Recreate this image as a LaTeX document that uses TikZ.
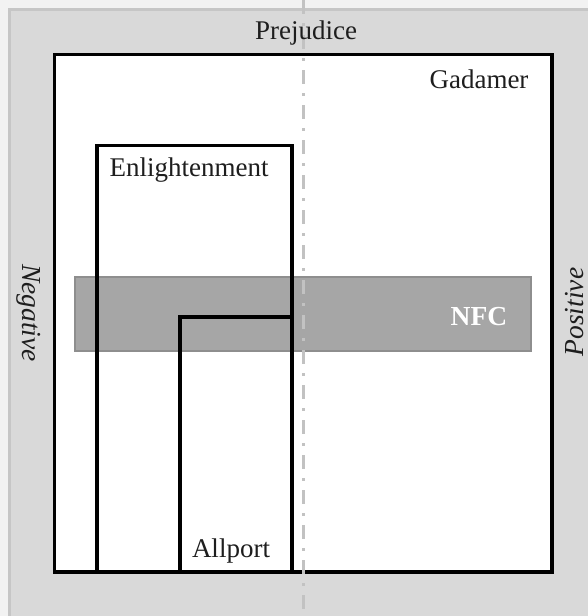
\documentclass[tikz,border=0pt]{standalone}
\usepackage{fontspec}
\setmainfont{Liberation Serif}
\begin{document}
\begin{tikzpicture}[x=1pt,y=-1pt,
  panel/.style={fill=panelgray,draw=paneledge,line width=3pt},
  frame/.style={draw=black,line width=3.2pt,line join=miter},
  bar/.style={fill=bargray,draw=baredge,line width=2pt},
  axisline/.style={draw=axisgray,line width=3pt,dash pattern=on 14pt off 9pt on 3pt off 9pt},
  lbl/.style={font=\fontsize{27}{32}\selectfont,text=ink,anchor=base,inner sep=0pt},
  side/.style={lbl,font=\fontsize{27.5}{32}\selectfont\itshape}]
\definecolor{panelgray}{HTML}{D9D9D9}
\definecolor{paneledge}{HTML}{C6C6C6}
\definecolor{bargray}{HTML}{A6A6A6}
\definecolor{baredge}{HTML}{8E8E8E}
\definecolor{axisgray}{HTML}{C2C2C2}
\definecolor{ink}{HTML}{1E1E1E}
\useasboundingbox (0,0) rectangle (588,616);
\fill[white!95!black] (0,0) rectangle (588,616);
% outer panel
\draw[panel] (9.5,9.5) rectangle (600,630);
% Gadamer frame
\fill[white] (54.5,54.5) rectangle (552,572);
\draw[frame] (54.5,54.5) rectangle (552,572);
% NFC band
\draw[bar] (75,277) rectangle (531,351);
% Enlightenment and Allport frames
\draw[frame] (97,145.5) rectangle (292,572);
\draw[frame] (180,317) rectangle (292,572);
% vertical divider
\draw[axisline] (303,0) -- (303,616);
% labels
\node[lbl] (prej) at (306,39) {Prejudice};
\node[lbl] (gad) at (479,88) {Gadamer};
\node[lbl] (enl) at (189,176) {Enlightenment};
\node[lbl] (all) at (231,557) {Allport};
\node[lbl,font=\fontsize{27.5}{32}\selectfont\bfseries,text=white] (nfc) at (479,325) {NFC};
\node[side,rotate=-90] (neg) at (23,313) {Negative};
\node[side,rotate=90] (pos) at (583,312) {Positive};
\end{tikzpicture}
\end{document}
